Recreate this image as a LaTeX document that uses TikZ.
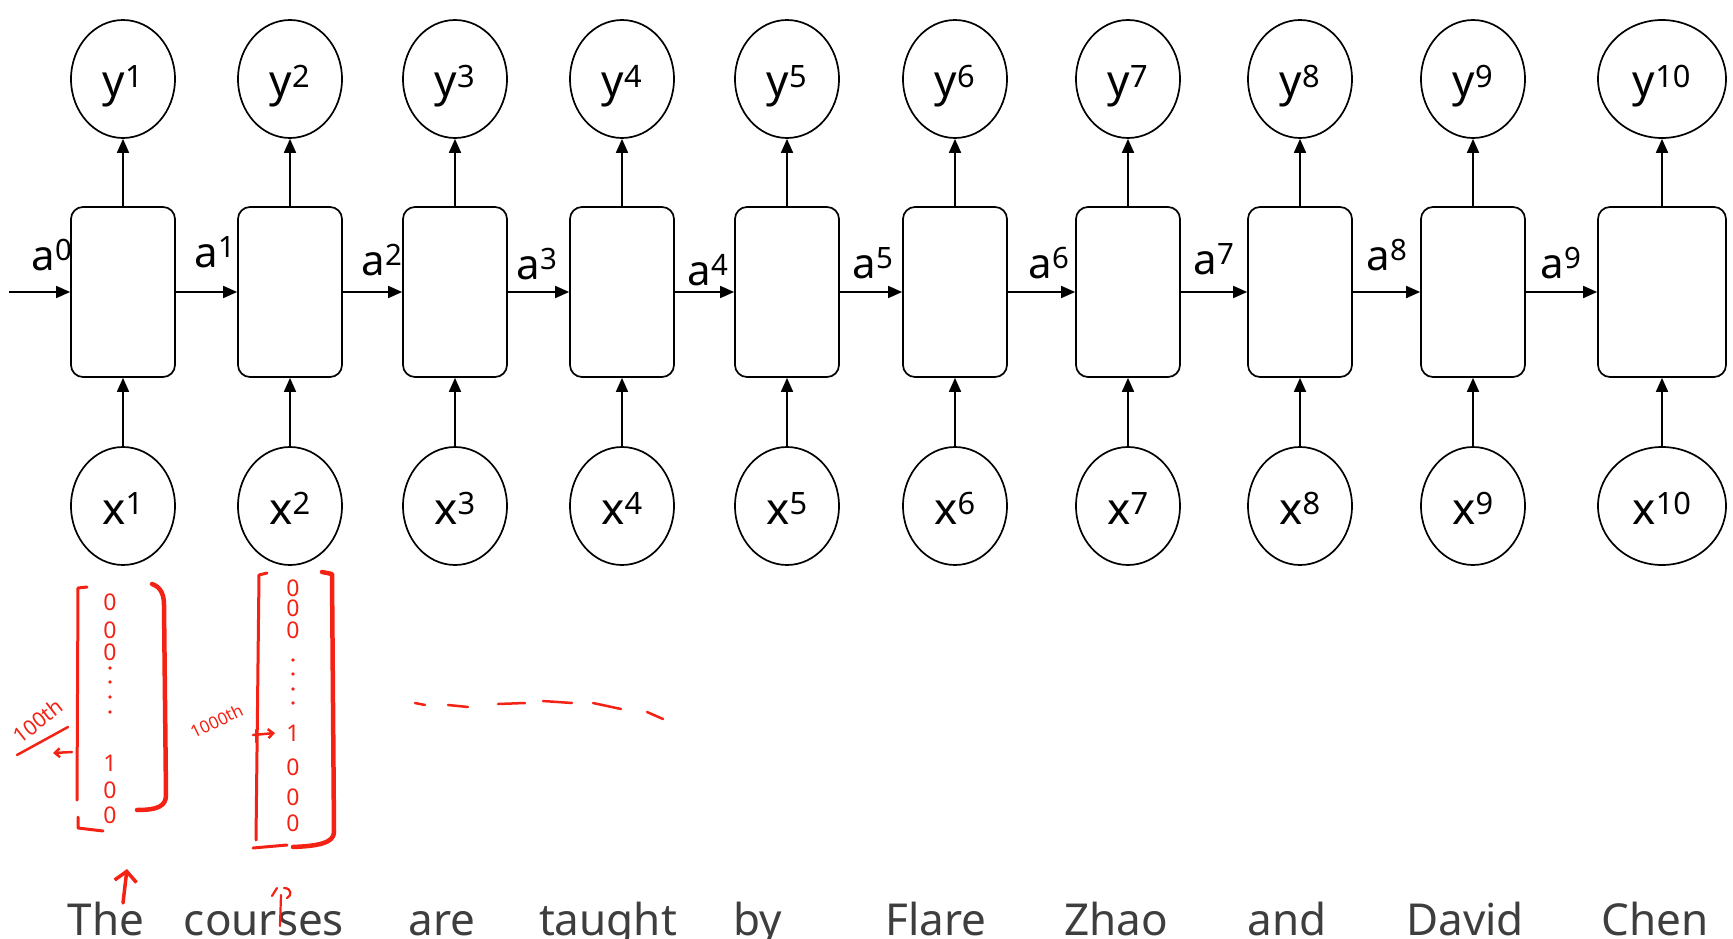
\documentclass[tikz,border=0pt]{standalone}
\usepackage{fontspec}
\setmainfont{Noto Sans}
\usepackage{tikz}
\usetikzlibrary{arrows.meta,shapes.geometric}

\definecolor{pen}{RGB}{244,34,20}
\definecolor{wordgray}{RGB}{62,62,62}

\begin{document}
\begin{tikzpicture}[x=1pt, y=-1pt]
    \tikzset{
        cjob/.style={ellipse, draw=black, line width=1.7pt, minimum width=104pt, minimum height=118pt, inner sep=0pt, font=\fontsize{44}{50}\selectfont, text height=36pt, text depth=0pt},
        ccell/.style={rectangle, rounded corners=12pt, draw=black, line width=1.7pt, minimum width=104pt, minimum height=170pt, inner sep=0pt},
        carrow/.style={-{Triangle[length=14pt, width=12pt]}, line width=1.7pt},
        clabel/.style={anchor=base, inner sep=0pt, font=\fontsize{42}{48}\selectfont},
        cword/.style={anchor=base, inner sep=0pt, text=wordgray, font=\fontsize{44}{50}\selectfont},
        cpen/.style={draw=pen, line width=3pt, line cap=round, line join=round},
        cdigit/.style={inner sep=0pt, text=pen, font=\fontsize{23}{23}\selectfont\bfseries},
    }

    \useasboundingbox (0, 0) rectangle (1733, 939);

    % Cells:
    \foreach \i/\cx/\w in {1/123/104, 2/290/104, 3/455/104, 4/622/104, 5/787/104, 6/955/104, 7/1128/104, 8/1300/104, 9/1473/104, 10/1662/128} {
        \node[ccell, minimum width=\w pt] (cell-\i) at (\cx, 292) {};
        \node[cjob, minimum width=\w pt] (y-\i) at (\cx, 79) {y\textsuperscript{\i}};
        \node[cjob, minimum width=\w pt] (x-\i) at (\cx, 506) {x\textsuperscript{\i}};
        \draw[carrow] (cell-\i) -- (y-\i);
        \draw[carrow] (x-\i) -- (cell-\i);
    }

    % Hidden states:
    \coordinate (a-in) at (9, 292);
    \draw[carrow] (a-in) -- (cell-1);
    \foreach \i/\j in {1/2, 2/3, 3/4, 4/5, 5/6, 6/7, 7/8, 8/9, 9/10} {
        \draw[carrow] (cell-\i) -- (cell-\j);
    }
    \foreach \i/\lx/\ly in {0/52/270, 1/215/267, 2/382/275, 3/537/279, 4/708/285, 5/873/278, 6/1049/278, 7/1214/274, 8/1387/270, 9/1561/278} {
        \node[clabel] (a-\i) at (\lx, \ly) {a\textsuperscript{\i}};
    }

    % Words:
    \foreach \t/\wx in {The/106, courses/264, are/442, taught/608, by/758, Flare/936, Zhao/1116, and/1287, David/1465, Chen/1655} {
        \node[cword] (w-\t) at (\wx, 935) {\t};
    }

    % One-hot for "The":
    \draw[cpen] (87,587) -- (78,588) -- (77,800);
    \draw[cpen] (78,817) -- (78,828) -- (103,831);
    \draw[cpen, line width=4.5pt] (152,584) .. controls (161,587) and (164,595) .. (164,605) -- (166,795) .. controls (166,806) and (158,810) .. (137,810);
    \foreach \k/\dy/\d in {1/602/0, 2/630/0, 3/652/0, 4/763/1, 5/790/0, 6/815/0} {
        \node[cdigit] (one-\k) at (110, \dy) {\d};
    }
    \foreach \dy in {668, 682, 697, 712} {
        \fill[pen] (110, \dy) circle (1.8pt);
    }
    \node[cdigit, rotate=38, font=\fontsize{21}{21}\selectfont] (one-pos) at (38, 721) {100th};
    \draw[cpen, line width=2.5pt] (17,755) -- (68,727);
    \draw[cpen, line width=2.5pt, -{Straight Barb[length=5pt, width=9pt]}] (72,752) -- (53,753);

    % One-hot for "courses":
    \draw[cpen] (267,573) -- (259,575) -- (256,840);
    \draw[cpen] (253,848) -- (287,845);
    \draw[cpen, line width=4.5pt] (322,572) -- (332,574) -- (334,832) .. controls (334,843) and (318,846) .. (293,847);
    \foreach \k/\dy/\d in {1/588/0, 2/608/0, 3/630/0, 4/733/1, 5/767/0, 6/797/0, 7/823/0} {
        \node[cdigit] (two-\k) at (293, \dy) {\d};
    }
    \foreach \dy in {660, 674, 689, 703} {
        \fill[pen] (293, \dy) circle (1.8pt);
    }
    \node[cdigit, rotate=26, font=\fontsize{17}{17}\selectfont] (two-pos) at (217, 721) {1000th};
    \draw[cpen, line width=2.5pt] (256,730) -- (256,742);
    \draw[cpen, line width=2.5pt, -{Straight Barb[length=5pt, width=9pt]}] (253,735) -- (275,733);

    % Dashes:
    \foreach \xa/\ya/\xb/\yb in {415/703/425/705, 448/705/468/707, 498/704/525/703, 543/701/572/703, 593/703/621/709, 647/712/663/719} {
        \draw[cpen, line width=2.5pt] (\xa, \ya) -- (\xb, \yb);
    }

    % Marks over words:
    \draw[cpen, line width=3.5pt, -{Straight Barb[length=10pt, width=22pt]}] (123,903) -- (127,869);
    \draw[cpen, line width=2.2pt] (281,895) -- (280,926);
    \draw[cpen, line width=2.2pt] (272,896) -- (277,888);
    \draw[cpen, line width=2.2pt] (284,888) .. controls (292,888) and (292,896) .. (287,898);
\end{tikzpicture}
\end{document}
